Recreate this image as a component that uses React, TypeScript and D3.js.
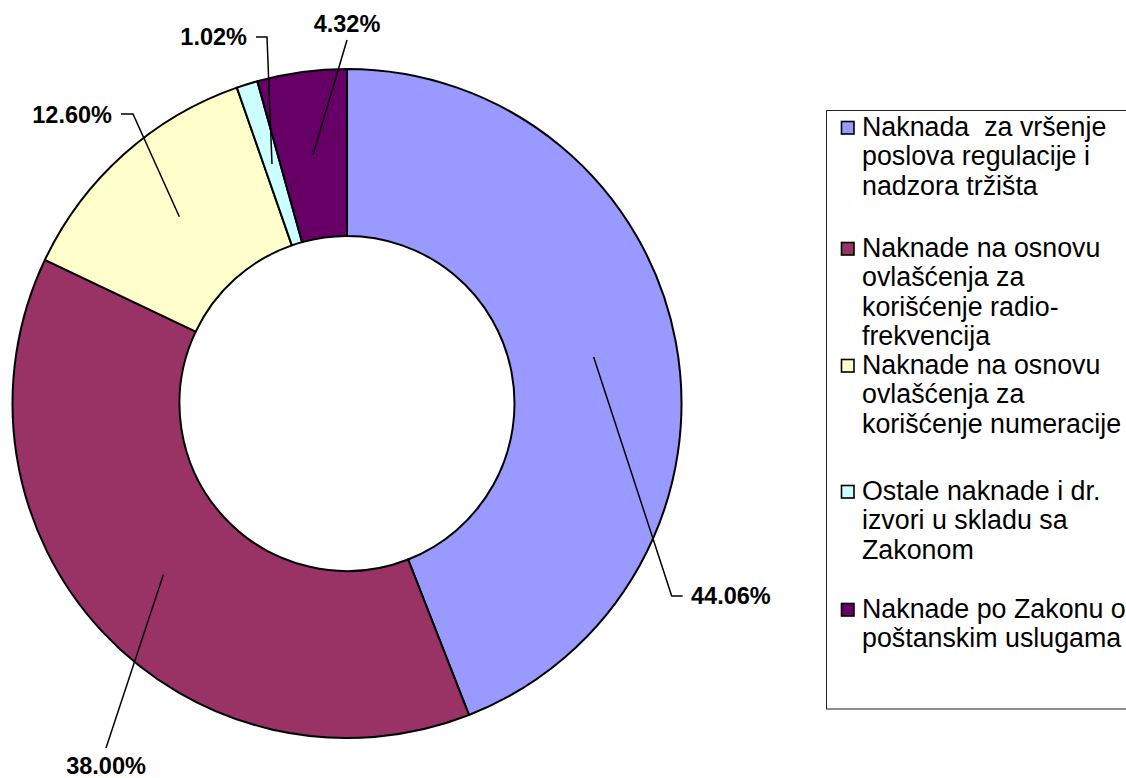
import React from "react";
import * as d3 from "d3";

const categories = [
  "Naknada  za vršenje poslova regulacije i nadzora tržišta",
  "Naknade na osnovu ovlašćenja za korišćenje radio-frekvencija",
  "Naknade na osnovu ovlašćenja za korišćenje numeracije",
  "Ostale naknade i dr. izvori u skladu sa Zakonom",
  "Naknade po Zakonu o poštanskim uslugama",
];
const legendLines = [
  ["Naknada  za vršenje", "poslova regulacije i", "nadzora tržišta"],
  ["Naknade na osnovu", "ovlašćenja za", "korišćenje radio-", "frekvencija"],
  ["Naknade na osnovu", "ovlašćenja za", "korišćenje numeracije"],
  ["Ostale naknade i dr.", "izvori u skladu sa", "Zakonom"],
  ["Naknade po Zakonu o", "poštanskim uslugama"],
];
const values = [44.06, 38.0, 12.6, 1.02, 4.32];
const labels = ["44.06%", "38.00%", "12.60%", "1.02%", "4.32%"];
const colors = ["#9999FF", "#993366", "#FFFFCC", "#CCFFFF", "#660066"];

// layout
const CX = 347;
const CY = 403.5;
const R_OUT = 334.5;
const R_IN = 167.5;

// label layout: elbow points, text position, anchor
const labelLayout = [
  { pts: [[671.7, 596], [682.7, 596]], tx: 691, ty: 604, anchor: "start" },
  { pts: [[106, 748]], tx: 106, ty: 774, anchor: "middle" },
  { pts: [[133, 114], [121, 114]], tx: 112, ty: 123, anchor: "end" },
  { pts: [[267, 37], [256, 37]], tx: 247, ty: 45, anchor: "end" },
  { pts: [[347, 40]], tx: 347, ty: 32, anchor: "middle" },
];
const legendBaselines = [136, 257, 374, 500, 618];
const LINE_H = 29.3;

export default function App() {
  const pie = d3.pie<number>().sort(null).value((d) => d);
  const arcs = pie(values);
  const arc = d3.arc<d3.PieArcDatum<number>>().innerRadius(R_IN).outerRadius(R_OUT);
  const font = "'Liberation Sans', Arial, sans-serif";

  return (
    <svg
      width={1126}
      height={778}
      style={{ position: "fixed", left: 0, top: 0, background: "#fff" }}
      fontFamily={font}
    >
      <rect x={0} y={0} width={1126} height={778} fill="#fff" />
      <g transform={`translate(${CX},${CY})`}>
        {arcs.map((a, i) => (
          <path key={i} d={arc(a) || ""} fill={colors[i]} stroke="#000" strokeWidth={2} strokeLinejoin="round" />
        ))}
      </g>
      {arcs.map((a, i) => {
        const [cx, cy] = arc.centroid(a);
        const L = labelLayout[i];
        const pts = [[cx + CX, cy + CY], ...L.pts];
        const line = d3.line()(pts as [number, number][]) || "";
        return (
          <g key={i}>
            <path d={line} fill="none" stroke="#000" strokeWidth={1.5} />
            <text
              x={L.tx}
              y={L.ty}
              textAnchor={L.anchor as any}
              fontSize={23.5}
              fontWeight="bold"
              fill="#000"
            >
              {labels[i]}
            </text>
          </g>
        );
      })}
      <rect x={826.5} y={110.5} width={320} height={598.5} fill="#fff" stroke="#222" strokeWidth={1} />
      {categories.map((c, i) => {
        const by = legendBaselines[i];
        return (
          <g key={i}>
            <rect x={841.5} y={by - 14.5} width={12.5} height={12.5} fill={colors[i]} stroke="#000" strokeWidth={1.6} />
            {legendLines[i].map((ln, j) => (
              <text
                key={j}
                x={862}
                y={by + j * LINE_H}
                fontSize={26.8}
                fill="#000"
                style={{ whiteSpace: "pre" }}
              >
                {ln}
              </text>
            ))}
          </g>
        );
      })}
    </svg>
  );
}
